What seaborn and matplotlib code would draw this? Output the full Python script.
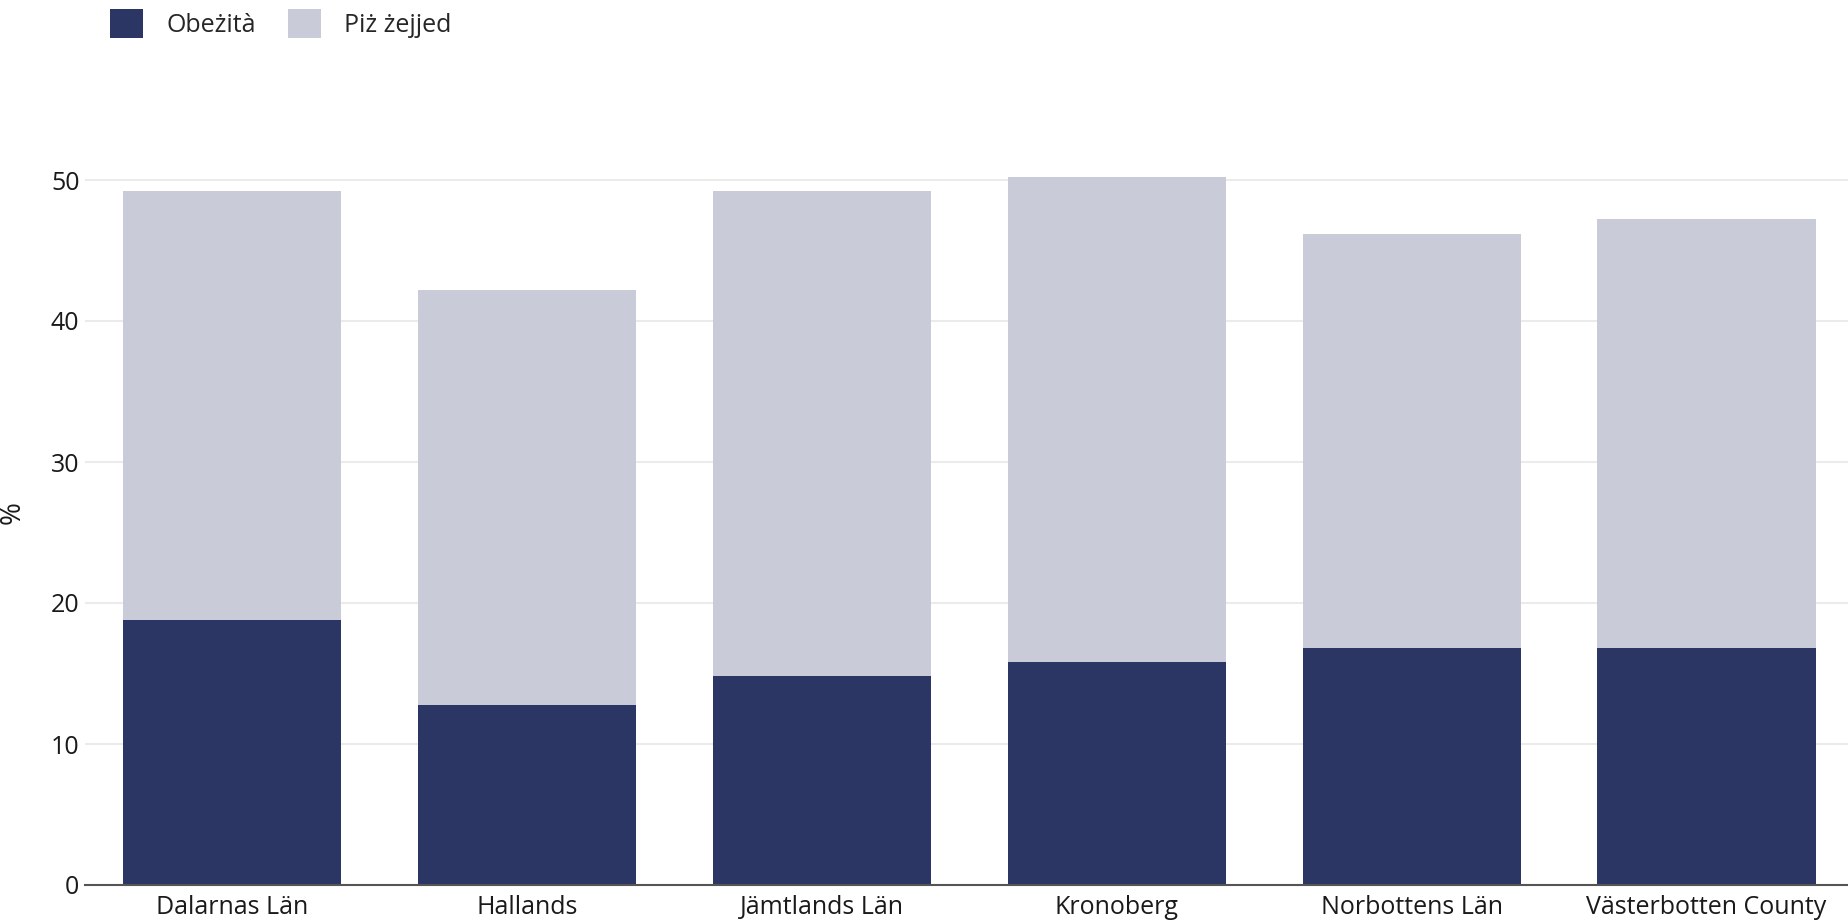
import matplotlib
matplotlib.use("Agg")
import matplotlib.pyplot as plt
from matplotlib.patches import Patch
import seaborn as sns
import pandas as pd

categories = ["Dalarnas Län", "Hallands", "Jämtlands Län", "Kronoberg", "Norbottens Län", "Västerbotten County"]
obese = [18.8, 12.8, 14.8, 15.8, 16.8, 16.8]
overweight = [30.4, 29.4, 34.4, 34.4, 29.4, 30.4]
series_names = ["Obeżità", "Piż żejjed"]
y_ticks = [0, 10, 20, 30, 40, 50]

DARK = "#2B3664"
LIGHT = "#C9CBD8"

sns.set_theme(style="white")
plt.rcParams["font.family"] = ["Open Sans", "DejaVu Sans"]
FS = 18

df = pd.DataFrame({"region": categories, "obese": obese, "overweight": overweight})
df["total"] = df["obese"] + df["overweight"]

fig = plt.figure(figsize=(18.48, 9.23), dpi=100)
ax = fig.add_axes([85 / 1848, 38 / 923, 1 - 85 / 1848, 775.5 / 923])

sns.barplot(data=df, x="region", y="total", color=LIGHT, width=0.74, linewidth=0,
            saturation=1, ax=ax, zorder=2)
sns.barplot(data=df, x="region", y="obese", color=DARK, width=0.74, linewidth=0,
            saturation=1, ax=ax, zorder=3)

ax.set_xlim(-0.5, 5.48)
ax.set_ylim(0, 55)
ax.set_yticks(y_ticks)
ax.set_yticklabels([str(v) for v in y_ticks])
ax.yaxis.grid(True, color="#EBEBEB", linewidth=1.5, zorder=0)
ax.set_axisbelow(True)
for s in ["top", "right", "left"]:
    ax.spines[s].set_visible(False)
ax.spines["bottom"].set_color("#555555")
ax.spines["bottom"].set_linewidth(1.5)
ax.spines["bottom"].set_zorder(4)
ax.tick_params(axis="both", length=0, labelsize=FS, colors="#1a1a1a")
ax.tick_params(axis="y", pad=4)
ax.tick_params(axis="x", pad=7)
ax.set_xlabel("")
ax.set_ylabel("%", fontsize=FS + 2, color="#1a1a1a")
ax.yaxis.set_label_coords(-0.033, 0.48)

handles = [Patch(facecolor=DARK, edgecolor="none"), Patch(facecolor=LIGHT, edgecolor="none")]
fig.legend(handles, series_names, loc="upper left", bbox_to_anchor=(110 / 1848, 1 - 9 / 923),
           ncol=2, frameon=False, fontsize=FS, handlelength=1.3, handleheight=1.4,
           handletextpad=0.95, columnspacing=1.3, borderpad=0, borderaxespad=0)

fig.savefig("out.png", dpi=100)
